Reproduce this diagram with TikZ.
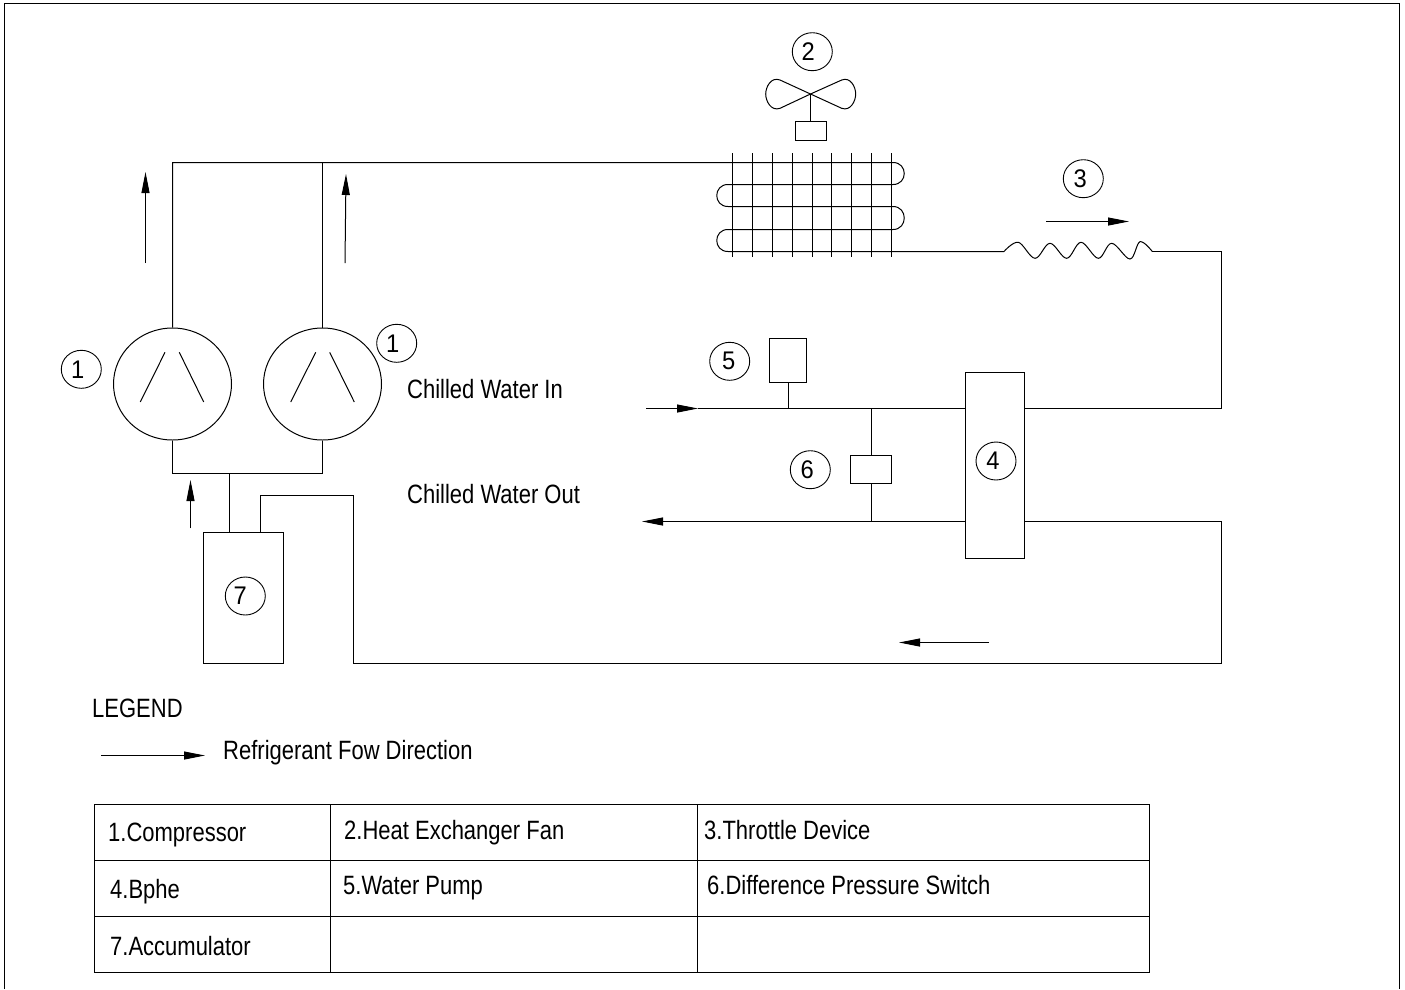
\documentclass[tikz,border=0pt]{standalone}
\usepackage{fontspec}
\setmainfont[FakeStretch=0.83]{Liberation Sans}
\newfontfamily\bubblefont[FakeStretch=0.93]{Liberation Sans}
\usetikzlibrary{arrows.meta,shapes.geometric}
\newcommand\digitshift[2]{\kern-\dimexpr #1pt*2\relax #2}
\tikzset{
  x=1pt,y=-1pt,
  wire/.style={line width=1pt,line join=miter,line cap=butt},
  flow/.style={line width=1pt,-{Triangle[length=21pt,width=8pt]}},
  lbl/.style={anchor=base west,inner sep=0pt,font=\fontsize{26.5}{28}\selectfont},
  bubble/.style={ellipse,draw,line width=0.9pt,inner sep=0pt,minimum width=40pt,minimum height=38pt,font=\bubblefont\fontsize{25.5}{27}\selectfont},
  comp/.style={ellipse,draw,line width=1pt,inner sep=0pt,minimum width=118pt,minimum height=112pt},
  unit/.style={rectangle,draw,line width=1pt,inner sep=0pt}
}
\begin{document}
\begin{tikzpicture}
\useasboundingbox (0,0) rectangle (1405,989);
% frame
\coordinate (fbl) at (4.5,989);\coordinate (ftl) at (4.5,3.5);\coordinate (ftr) at (1399.5,3.5);\coordinate (fbr) at (1399.5,989);
\draw[line width=1.5pt] (fbl) -- (ftl) -- (ftr) -- (fbr);
% compressors
\node[comp] (c1) at (172.5,384) {};
\node[comp] (c2) at (322.5,384) {};
\draw[wire] (165,352.3) -- (140.3,402) (179.3,352.3) -- (203.7,402);
\draw[wire] (315.7,352.3) -- (290.7,402) (329.7,352.3) -- (354.3,402);
\node[bubble] (b1a) at (81.3,369.3) {\digitshift{3.6}{1}};
\node[bubble] (b1b) at (396.7,343.3) {\digitshift{4}{1}};
% accumulator
\node[unit,minimum width=80pt,minimum height=131pt] (acc) at (243.5,598) {};
\node[bubble] (b7) at (245.3,596) {\digitshift{5}{7}};
% discharge pipes and coil
\coordinate (j1) at (172.5,162.5);\coordinate (j2) at (322.5,162.5);
\draw[wire] (c1.north) -- (j1) -- (893,162.5)
  .. controls (908,162.5) and (908,184.5) .. (893,184.5) -- (728,184.5)
  .. controls (713,184.5) and (713,206.5) .. (728,206.5) -- (893,206.5)
  .. controls (908,206.5) and (908,229.5) .. (893,229.5) -- (728,229.5)
  .. controls (713,229.5) and (713,251.5) .. (728,251.5) -- (1004,251.5)
  plot[smooth,tension=0.6] coordinates {(1004,251.5) (1018.3,242.3) (1035,258.3) (1050,243.3) (1066.7,258.3) (1081,242.3) (1098.3,258.3) (1111.7,243.3) (1130,259) (1140,241.7) (1152.3,251.5)};
\coordinate (k1) at (1221.5,251.5);\coordinate (k2) at (1221.5,408.5);
\draw[wire] (1152.3,251.5) -- (k1) -- (k2) -- (1024.5,408.5);
\draw[wire] (c2.north) -- (j2);
\foreach \x in {732.5,752.5,772.5,792.5,812.5,831.5,851.5,871.5,891.5}
  \draw[wire] (\x,153.3) -- (\x,257.3);
% fan
\node[bubble] (b2) at (812.3,51.7) {\digitshift{4}{2}};
\coordinate (hub) at (810.5,94);
\node[unit,minimum width=31pt,minimum height=19pt] (motor) at (810.5,131) {};
\draw[wire] (hub) -- (hub |- motor.north);
\draw[wire,line join=round] (hub) -- (780,80) .. controls (771,76.5) and (765.7,87) .. (765.7,94) .. controls (765.7,101) and (771,111.5) .. (780,108.3) -- (hub)
  -- (841.7,80) .. controls (850.5,76.5) and (855.7,87) .. (855.7,94) .. controls (855.7,101) and (850.5,111.5) .. (841.7,108.3) -- (hub);
% throttle
\node[bubble] (b3) at (1083.3,178.7) {\digitshift{3}{3}};
\coordinate (a3s) at (1046,221.5);\coordinate (a3e) at (1129,221.5);
\draw[flow] (a3s) -- (a3e);
% flow arrows
\coordinate (a1s) at (145.5,263);\coordinate (a1e) at (145.5,172);
\coordinate (a2s) at (345,263);\coordinate (a2e) at (346,174);
\coordinate (a4s) at (190.5,528.3);\coordinate (a4e) at (190.5,480);
\draw[flow] (a1s) -- (a1e);
\draw[flow] (a2s) -- (a2e);
\draw[flow] (a4s) -- (a4e);
% suction
\coordinate (s1) at (172.5,473.5);\coordinate (s2) at (322.5,473.5);\coordinate (s3) at (229.5,473.5);
\draw[wire] (c1.south) -- (s1) -- (s2) -- (c2.south);
\draw[wire] (s3) -- (s3 |- acc.north);
% bphe
\node[unit,minimum width=59pt,minimum height=186pt] (bphe) at (995,465) {};
\node[bubble] (b4) at (996,461) {\digitshift{3}{4}};
% return
\coordinate (r1) at (260.5,495.5);\coordinate (r2) at (353.5,495.5);\coordinate (r3) at (353.5,663.5);\coordinate (r4) at (1221.5,663.5);\coordinate (r5) at (1221.5,521.5);
\draw[wire] (r1 |- acc.north) -- (r1) -- (r2) -- (r3) -- (r4) -- (r5) -- (1024.5,521.5);
\coordinate (a5s) at (989,642.5);\coordinate (a5e) at (899,642.5);
\draw[flow] (a5s) -- (a5e);
% water
\coordinate (wi) at (646,408.5);\coordinate (wo) at (642,521.5);
\draw[wire] (698,408.5) -- (965.5,408.5);
\draw[flow] (wi) -- (698,408.5);
\draw[flow] (965.5,521.5) -- (wo);
\node[unit,minimum width=37pt,minimum height=44pt] (pump) at (788,360) {};
\node[bubble] (b5) at (729.7,361.3) {\digitshift{1}{5}};
\draw[wire] (788.5,382) -- (788.5,408.5);
\node[unit,minimum width=41pt,minimum height=28pt] (dps) at (871,469) {};
\node[bubble] (b6) at (810.3,469.7) {\digitshift{3}{6}};
\draw[wire] (871.5,408.5) -- (871.5,455) (871.5,483) -- (871.5,521.5);
% texts
\node[lbl] (t1) at (407,398) {Chilled Water In};
\node[lbl] (t2) at (407,503.3) {Chilled Water Out};
\node[lbl] (t3) at (92,717.5) {LEGEND};
\coordinate (la) at (101,755.5);\coordinate (lb) at (205,755.5);
\draw[flow] (la) -- (lb);
\node[lbl] (t4) at (223,759) {Refrigerant Fow Direction};
% table
\draw[wire] (94.5,804.5) rectangle (1149.5,972.5);
\draw[wire] (94.5,860.5) -- (1149.5,860.5) (94.5,916.5) -- (1149.5,916.5) (330.5,804.5) -- (330.5,972.5) (697.5,804.5) -- (697.5,972.5);
\node[lbl] (c11) at (108,841) {1.Compressor};
\node[lbl] (c12) at (344,839) {2.Heat Exchanger Fan};
\node[lbl] (c13) at (704,839) {3.Throttle Device};
\node[lbl] (c21) at (110,898) {4.Bphe};
\node[lbl] (c22) at (343,894) {5.Water Pump};
\node[lbl] (c23) at (707,894) {6.Difference Pressure Switch};
\node[lbl] (c31) at (110,955) {7.Accumulator};
\end{tikzpicture}
\end{document}
